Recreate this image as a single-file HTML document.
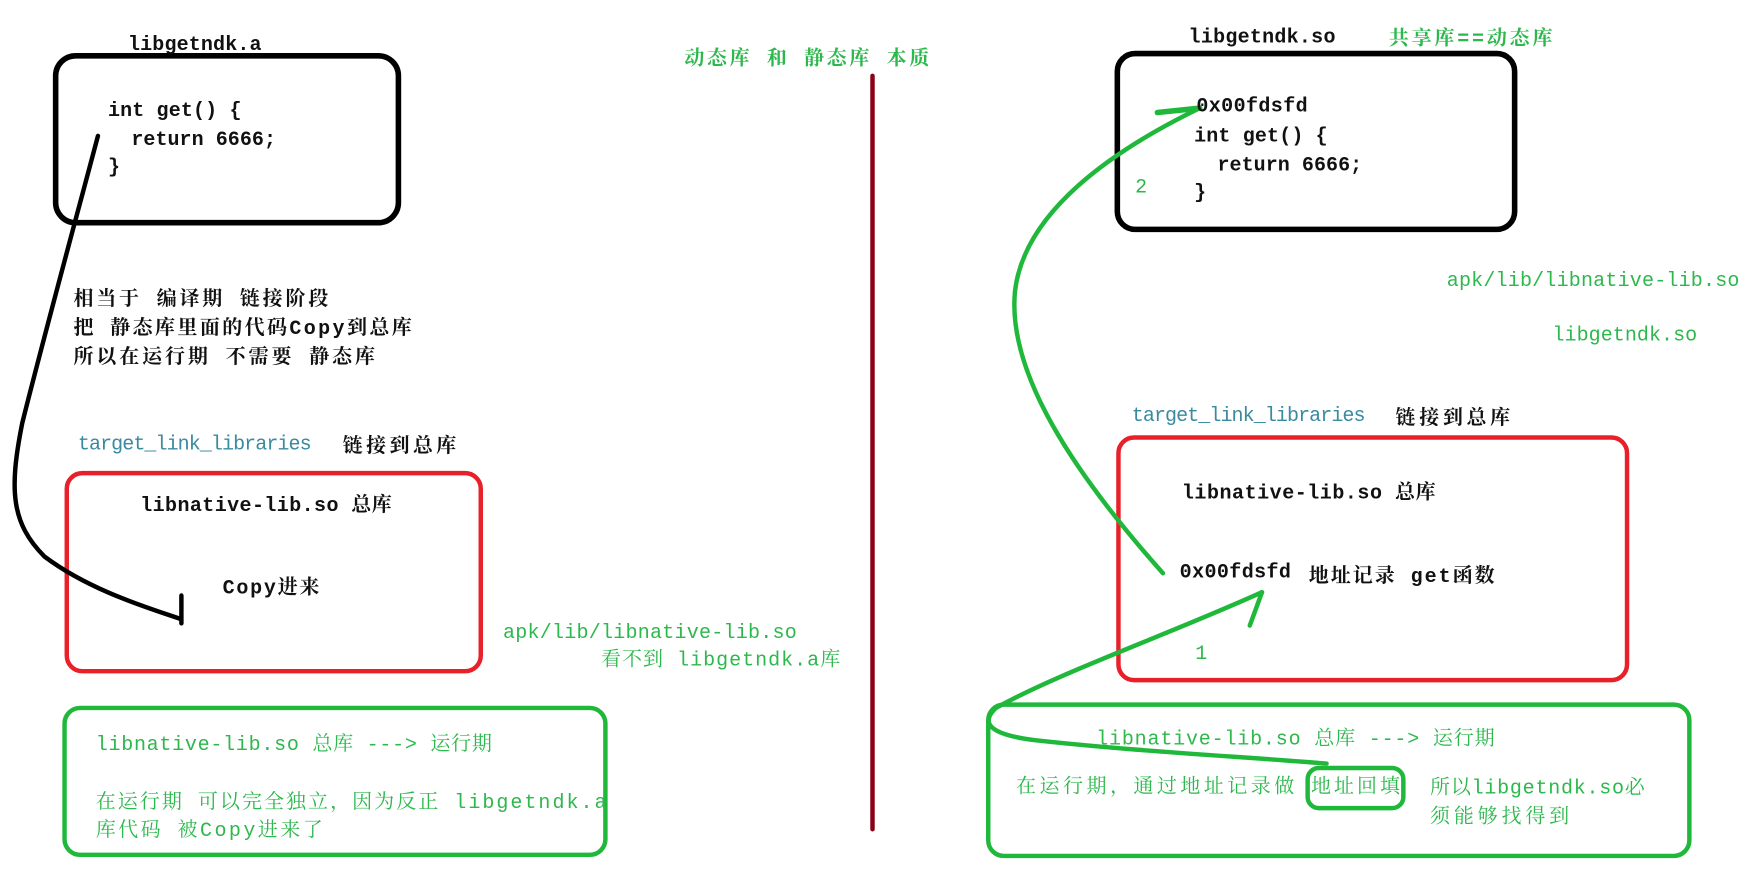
<!DOCTYPE html>
<html><head><meta charset="utf-8"><style>
html,body{margin:0;padding:0;background:#fff;width:1745px;height:875px;overflow:hidden}
text{font-family:"Liberation Mono","Noto Serif CJK SC","Noto Sans CJK SC",monospace;font-size:18px;font-weight:bold}
.g{fill:#2db84d}.k{fill:#111}.t{fill:#3a8aa0;font-weight:normal}.n{font-weight:normal}
</style></head><body>
<svg width="1745" height="875" viewBox="0 0 1568 786" xmlns="http://www.w3.org/2000/svg">
<g fill="none" stroke-linecap="round" stroke-linejoin="round">
<rect x="50" y="50" width="308" height="150" rx="18" stroke="#000" stroke-width="5"/>
<rect x="60" y="425" width="372" height="178" rx="14" stroke="#e8202a" stroke-width="4"/>
<rect x="58" y="636" width="486" height="132" rx="14" stroke="#1fb83a" stroke-width="4"/>
<line x1="784" y1="68" x2="784" y2="745" stroke="#8b0016" stroke-width="4"/>
<path d="M88,122 C70,190 40,300 20,380 C8,440 10,470 40,500 C80,530 130,545 162,556" stroke="#000" stroke-width="4"/>
<line x1="163" y1="535" x2="163" y2="560" stroke="#000" stroke-width="4"/>
<rect x="1004" y="48" width="357" height="158" rx="16" stroke="#000" stroke-width="5"/>
<rect x="1005" y="393" width="457" height="218" rx="14" stroke="#e8202a" stroke-width="4"/>
<rect x="888" y="633" width="630" height="136" rx="14" stroke="#1fb83a" stroke-width="4"/>
<rect x="1175" y="690" width="86" height="36" rx="10" stroke="#1fb83a" stroke-width="4"/>
<path d="M1045,515 C965,425 905,335 912,262 C920,190 1000,135 1078,97" stroke="#1fb83a" stroke-width="4"/>
<line x1="1040" y1="101" x2="1078" y2="97" stroke="#1fb83a" stroke-width="5"/>
<path d="M1134,532 C1050,570 950,605 895,636 C880,650 890,660 930,665 C1020,675 1120,680 1192,686" stroke="#1fb83a" stroke-width="4"/>
<line x1="1134" y1="532" x2="1123" y2="562" stroke="#1fb83a" stroke-width="4"/>
</g>
<text x="115" y="45" class="k" textLength="120">libgetndk.a</text>
<text x="97" y="104" class="k" textLength="120">int get() {</text>
<text x="118" y="130" class="k" textLength="130">return 6666;</text>
<text x="97" y="155" class="k">}</text>
<text x="615" y="58" class="g" textLength="220">动态库 和 静态库 本质</text>
<text x="66" y="274" class="k" textLength="229">相当于 编译期 链接阶段</text>
<text x="66" y="300" class="k" textLength="304">把 静态库里面的代码Copy到总库</text>
<text x="66" y="326" class="k" textLength="271">所以在运行期 不需要 静态库</text>
<text x="70" y="404" class="t" textLength="210">target_link_libraries</text>
<text x="308" y="406" class="k" textLength="102">链接到总库</text>
<text x="126" y="459" class="k" textLength="226">libnative-lib.so 总库</text>
<text x="200" y="533" class="k" textLength="87">Copy进来</text>
<text x="452" y="573" class="g n" textLength="264">apk/lib/libnative-lib.so</text>
<text x="540" y="598" class="g n" textLength="215">看不到 libgetndk.a库</text>
<text x="86" y="674" class="g n" textLength="356">libnative-lib.so 总库 ---&gt; 运行期</text>
<text x="86" y="726" class="g n" textLength="459">在运行期 可以完全独立，因为反正 libgetndk.a</text>
<text x="86" y="751" class="g n" textLength="204">库代码 被Copy进来了</text>
<text x="1068" y="38" class="k" textLength="132">libgetndk.so</text>
<text x="1248" y="40" class="g" textLength="147">共享库==动态库</text>
<text x="1075" y="100" class="k" textLength="100">0x00fdsfd</text>
<text x="1073" y="127" class="k" textLength="120">int get() {</text>
<text x="1094" y="153" class="k" textLength="130">return 6666;</text>
<text x="1073" y="178" class="k">}</text>
<text x="1020" y="173" class="g n">2</text>
<text x="1300" y="257" class="g n" textLength="263">apk/lib/libnative-lib.so</text>
<text x="1395" y="306" class="g n" textLength="130">libgetndk.so</text>
<text x="1017" y="378" class="t" textLength="210">target_link_libraries</text>
<text x="1254" y="381" class="k" textLength="103">链接到总库</text>
<text x="1062" y="448" class="k" textLength="228">libnative-lib.so 总库</text>
<text x="1060" y="519" class="k" textLength="100">0x00fdsfd</text>
<text x="1176" y="523" class="k" textLength="167">地址记录 get函数</text>
<text x="1074" y="592" class="g n">1</text>
<text x="985" y="669" class="g n" textLength="358">libnative-lib.so 总库 ---&gt; 运行期</text>
<text x="913" y="712" class="g n" textLength="250">在运行期，通过地址记录做</text>
<text x="1178" y="712" class="g n" textLength="80">地址回填</text>
<text x="1285" y="713" class="g n" textLength="193">所以libgetndk.so必</text>
<text x="1285" y="739" class="g n" textLength="125">须能够找得到</text>
</svg>
</body></html>
